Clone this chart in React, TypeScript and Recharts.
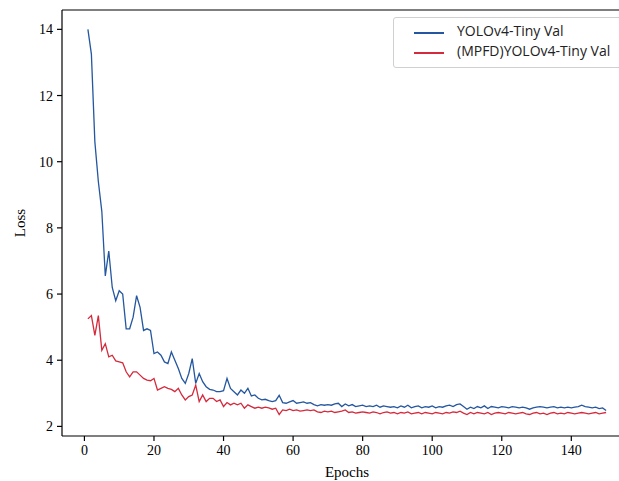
import React from 'react';
import { LineChart, Line, XAxis, YAxis, Legend, ReferenceLine, Label } from 'recharts';

const BLUE = '#24579f';
const RED = '#d42a3c';

// validation loss per epoch (1..150)
const baseVal = [
  14.0, 13.25, 10.6, 9.4, 8.5, 6.55, 7.3, 6.2, 5.8, 6.1,
  6.0, 4.95, 4.95, 5.3, 5.95, 5.6, 4.9, 4.95, 4.9, 4.2,
  4.25, 4.15, 3.95, 3.9, 4.25, 4.0, 3.75, 3.45, 3.3, 3.6,
  4.05, 3.3, 3.6, 3.35, 3.2, 3.12, 3.1, 3.05, 3.05, 3.08,
  3.45, 3.15, 3.05, 2.95, 3.1, 3.0, 3.15, 2.92, 2.95, 2.85,
  2.8, 2.82, 2.78, 2.75, 2.78, 2.94, 2.72, 2.7, 2.74, 2.78,
  2.7, 2.72, 2.74, 2.7, 2.72, 2.66, 2.62, 2.66, 2.64, 2.66,
  2.64, 2.68, 2.7, 2.6, 2.68, 2.62, 2.66, 2.6, 2.62, 2.64,
  2.6, 2.62, 2.6, 2.64, 2.58, 2.62, 2.6, 2.58, 2.6, 2.56,
  2.62, 2.58, 2.64, 2.56, 2.6, 2.62, 2.56, 2.6, 2.58, 2.62,
  2.56, 2.6, 2.58, 2.62, 2.64, 2.6, 2.66, 2.68, 2.6, 2.52,
  2.58, 2.54, 2.6, 2.56, 2.62, 2.54, 2.6, 2.58, 2.56, 2.6,
  2.58, 2.56, 2.6, 2.58, 2.56, 2.58, 2.56, 2.52, 2.56, 2.58,
  2.6, 2.58, 2.56, 2.58, 2.6, 2.56, 2.58, 2.56, 2.58, 2.56,
  2.58, 2.6, 2.64, 2.6, 2.58, 2.56, 2.58, 2.54, 2.56, 2.48,
];

const mpfdVal = [
  5.25, 5.35, 4.75, 5.35, 4.3, 4.5, 4.1, 4.15, 3.98, 3.95,
  3.92, 3.65, 3.5, 3.65, 3.65, 3.55, 3.45, 3.4, 3.38, 3.45,
  3.1, 3.15, 3.2, 3.15, 3.12, 3.05, 3.15, 2.95, 2.8, 2.9,
  2.95, 3.25, 2.75, 2.95, 2.75, 2.85, 2.85, 2.75, 2.8, 2.6,
  2.72, 2.65, 2.7, 2.65, 2.7, 2.55, 2.65, 2.6, 2.55, 2.58,
  2.55, 2.58, 2.56, 2.52, 2.55, 2.36, 2.5, 2.48, 2.52, 2.48,
  2.5, 2.46, 2.48, 2.5, 2.48, 2.5, 2.44, 2.42, 2.46, 2.44,
  2.46, 2.42, 2.44, 2.46, 2.5, 2.42, 2.44, 2.4, 2.42, 2.44,
  2.42, 2.4, 2.44, 2.42, 2.38, 2.42, 2.44, 2.4, 2.42, 2.38,
  2.42, 2.4, 2.44, 2.38, 2.4, 2.42, 2.38, 2.42, 2.4, 2.38,
  2.42, 2.4, 2.38, 2.42, 2.4, 2.44, 2.42, 2.46, 2.4, 2.36,
  2.42, 2.38, 2.42, 2.4, 2.38, 2.42, 2.36, 2.4, 2.42, 2.4,
  2.38, 2.42, 2.4, 2.38, 2.4, 2.42, 2.38, 2.36, 2.4, 2.42,
  2.38, 2.4, 2.36, 2.4, 2.42, 2.38, 2.4, 2.38, 2.42, 2.4,
  2.38, 2.4, 2.42, 2.4, 2.38, 2.4, 2.42, 2.38, 2.4, 2.42,
];

const xTicks = [0, 20, 40, 60, 80, 100, 120, 140];
const yTicks = [2, 4, 6, 8, 10, 12, 14];
const seriesNames = ['YOLOv4-Tiny Val', '(MPFD)YOLOv4-Tiny Val'];
const seriesColors = [BLUE, RED];

const data = baseVal.map((v, i) => ({ epoch: i + 1, base: v, mpfd: mpfdVal[i] }));

const tickFont = { fontFamily: 'Liberation Serif, serif', fontSize: 14, fill: '#000' };

const LegendBox = () => (
  <div
    style={{
      position: 'absolute',
      left: 393,
      top: 17,
      width: 240,
      height: 49,
      border: '1px solid #d0d0d0',
      borderRadius: 3,
      background: '#fff',
      fontFamily: 'Open Sans, Liberation Sans, sans-serif',
      fontSize: 14,
      color: '#222',
    }}
  >
    {seriesNames.map((n, i) => (
      <React.Fragment key={n}>
        <div
          style={{
            position: 'absolute',
            left: 20,
            top: 14 + i * 20,
            width: 30,
            height: 1.5,
            background: seriesColors[i],
          }}
        />
        <span style={{ position: 'absolute', left: 63, top: 3 + i * 20, whiteSpace: 'nowrap', lineHeight: '20px' }}>
          {n}
        </span>
      </React.Fragment>
    ))}
  </div>
);

export default function App() {
  return (
    <div style={{ position: 'absolute', left: 0, top: 0, width: 619, height: 481, overflow: 'hidden', background: '#fff' }}>
      <LineChart width={640} height={481} data={data} margin={{ top: 10, right: 8, bottom: 0, left: 0 }}>
        <XAxis
          dataKey="epoch"
          type="number"
          domain={[-6.45, 157.45]}
          ticks={xTicks}
          allowDataOverflow
          stroke="#000"
          strokeWidth={1.2}
          tickSize={5}
          tickMargin={4}
          tick={tickFont}
          height={45}
        >
          <Label value="Epochs" position="insideBottom" offset={4} style={{ ...tickFont, fontSize: 15 }} />
        </XAxis>
        <YAxis
          type="number"
          domain={[1.71, 14.585]}
          ticks={yTicks}
          allowDataOverflow
          stroke="#000"
          strokeWidth={1.2}
          tickSize={5}
          tickMargin={4}
          tick={tickFont}
          width={62}
        >
          <Label value="Loss" angle={-90} position="insideLeft" offset={20} style={{ ...tickFont, fontSize: 15, textAnchor: 'middle' }} />
        </YAxis>
        <ReferenceLine y={14.585} stroke="#000" strokeWidth={1.2} />
        <Legend content={() => null} />
        <Line
          dataKey="base"
          name={seriesNames[0]}
          stroke={BLUE}
          strokeWidth={1.3}
          dot={false}
          isAnimationActive={false}
          type="linear"
        />
        <Line
          dataKey="mpfd"
          name={seriesNames[1]}
          stroke={RED}
          strokeWidth={1.3}
          dot={false}
          isAnimationActive={false}
          type="linear"
        />
      </LineChart>
      <LegendBox />
    </div>
  );
}
